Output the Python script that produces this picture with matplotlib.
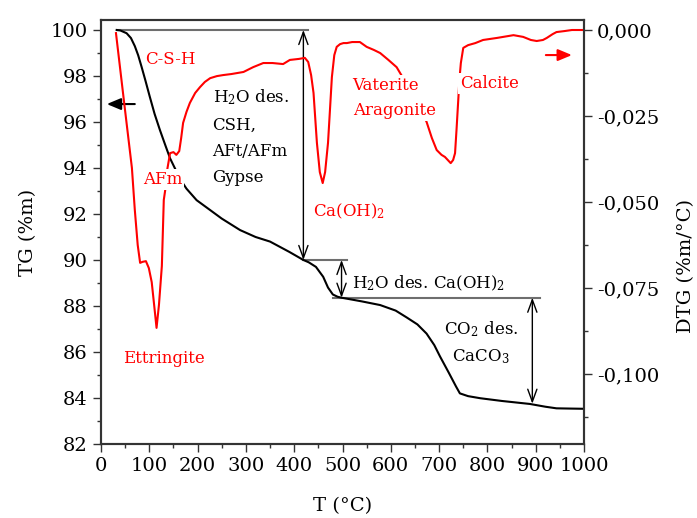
import matplotlib
matplotlib.use("Agg")
import matplotlib.pyplot as plt
from matplotlib.ticker import MultipleLocator, FuncFormatter

plt.rcParams["font.family"] = ["DejaVu Serif"]
plt.rcParams["mathtext.fontset"] = "dejavuserif"
plt.rcParams["mathtext.default"] = "regular"

# TG curve (mass %, vs temperature in degC)
tg_T = [32.5, 40, 53, 62, 70, 77, 84, 92, 101, 111, 122, 133, 143, 155, 166, 177,
        198, 226, 250, 288, 320, 350, 390, 419, 430, 445, 460, 470, 480, 490, 498,
        540, 578, 610, 633, 655, 674, 690, 702, 720, 735, 743, 760, 785, 830, 888,
        920, 943, 970, 1000]
tg = [100.0, 99.98, 99.86, 99.65, 99.3, 98.9, 98.4, 97.8, 97.1, 96.35, 95.65, 95.0,
      94.42, 93.9, 93.45, 93.1, 92.6, 92.17, 91.8, 91.3, 91.0, 90.8, 90.35, 90.0,
      89.9, 89.7, 89.27, 88.8, 88.5, 88.4, 88.36, 88.2, 88.04, 87.8, 87.5, 87.2,
      86.8, 86.3, 85.8, 85.1, 84.5, 84.2, 84.08, 83.99, 83.87, 83.74, 83.62, 83.55,
      83.54, 83.53]

# DTG curve (%m/degC)
dtg_T = [31, 48, 64, 70, 76, 81, 86, 93, 99, 105, 110, 115, 120, 126, 130, 133, 137,
         143, 150, 156, 162, 166, 170, 177, 184, 195, 205, 215, 226, 240, 253, 270,
         295, 315, 336, 355, 377, 391, 410, 422, 429, 435, 440, 447, 453, 459, 464,
         470, 474, 478, 483, 488, 495, 502, 509, 520, 536, 550, 565, 578, 595, 612,
         640, 660, 674, 685, 695, 705, 712, 718, 724, 729, 733, 736, 740, 742, 745,
         750, 760, 775, 791, 820, 854, 874, 890, 902, 915, 923, 935, 943, 960, 975,
         992, 1000]
dtg = [-0.0009, -0.0212, -0.0401, -0.0523, -0.0625, -0.0677, -0.0674, -0.0672,
       -0.0692, -0.0733, -0.0799, -0.0866, -0.0799, -0.0686, -0.0494, -0.0465,
       -0.0407, -0.0358, -0.0355, -0.0363, -0.0352, -0.0314, -0.0270, -0.0238,
       -0.0212, -0.0183, -0.0166, -0.0151, -0.0140, -0.0134, -0.0131, -0.0128,
       -0.0122, -0.0108, -0.0096, -0.0096, -0.0099, -0.0087, -0.0084, -0.0081,
       -0.0093, -0.0131, -0.0183, -0.0328, -0.0413, -0.0445, -0.0413, -0.0328,
       -0.0233, -0.0137, -0.0073, -0.0049, -0.0041, -0.0038, -0.0038, -0.0035,
       -0.0035, -0.0049, -0.0058, -0.0067, -0.0087, -0.0108, -0.0174, -0.0227,
       -0.0267, -0.0314, -0.0349, -0.0363, -0.0369, -0.0378, -0.0387, -0.0378,
       -0.0358, -0.0291, -0.0195, -0.0145, -0.0096, -0.0052, -0.0044, -0.0038,
       -0.0029, -0.0023, -0.0015, -0.0020, -0.0029, -0.0032, -0.0029, -0.0023,
       -0.0012, -0.0006, -0.0003, 0.0, 0.0, 0.0]

# mass-loss steps (T of arrow, TG start, TG end)
steps_T = [419, 498, 893]
steps_top = [100.0, 90.0, 88.36]
steps_bot = [90.0, 88.36, 83.75]
# horizontal guide lines (TG level, T start, T end)
guide_lvl = [100.0, 90.0, 88.36]
guide_T0 = [32.5, 419, 480]
guide_T1 = [429, 509, 909]

RED = "#ff0000"
SPINE = "#333333"

fig = plt.figure(figsize=(6.97, 5.18), dpi=100)
ax = fig.add_axes([0.1449, 0.1429, 0.693, 0.8185])
ax2 = ax.twinx()

ax.plot(tg_T, tg, color="black", lw=1.5, zorder=3)
ax2.plot(dtg_T, dtg, color=RED, lw=1.5, zorder=2)

for lvl, t0, t1 in zip(guide_lvl, guide_T0, guide_T1):
    ax.plot([t0, t1], [lvl, lvl], color="#6e6e6e", lw=1.5, zorder=2)
for t, a, b in zip(steps_T, steps_top, steps_bot):
    ax.annotate("", xy=(t, b), xytext=(t, a),
                arrowprops=dict(arrowstyle="<->,head_length=0.6,head_width=0.22",
                                color="black", lw=1, shrinkA=0, shrinkB=0,
                                mutation_scale=15), zorder=4)

# axis indicator arrows
ax.annotate("", xy=(12, 96.78), xytext=(70, 96.78),
            arrowprops=dict(arrowstyle="-|>,head_length=0.6,head_width=0.25",
                            color="black", lw=1.5, shrinkA=0, shrinkB=0,
                            mutation_scale=14))
ax2.annotate("", xy=(975, 98.91), xytext=(921, 98.91), xycoords=ax.transData,
             textcoords=ax.transData,
             arrowprops=dict(arrowstyle="-|>,head_length=0.6,head_width=0.25",
                             color=RED, lw=1.5, shrinkA=0, shrinkB=0,
                             mutation_scale=14))

box = dict(facecolor="white", edgecolor="none", pad=1.5)
labels = [
    (91, 99.10, "C-S-H", RED, "left", None, 1.6),
    (87, 93.88, "AFm", RED, "left", box, 1.6),
    (46, 86.09, "Ettringite", RED, "left", None, 1.6),
    (231, 97.50, "H$_2$O des.\nCSH,\nAFt/AFm\nGypse", "black", "left", None, 1.72),
    (439, 92.52, "Ca(OH)$_2$", RED, "left", None, 1.6),
    (519, 89.42, "H$_2$O des. Ca(OH)$_2$", "black", "left", None, 1.6),
    (787, 87.42, "CO$_2$ des.\nCaCO$_3$", "black", "center", None, 1.6),
    (521, 97.94, "Vaterite\nAragonite", RED, "left", box, 1.6),
    (743, 98.04, "Calcite", RED, "left", box, 1.6),
]
for x, y, s, c, ha, bb, ls in labels:
    ax2.text(x, y, s, color=c, ha=ha, va="top", fontsize=12, linespacing=ls,
             multialignment=ha, transform=ax.transData, bbox=bb, zorder=5)

ax.set_xlim(0, 1000)
ax.set_ylim(82, 100.435)
ax2.set_ylim(-0.12035, 0.00291)

ax.xaxis.set_major_locator(MultipleLocator(100))
ax.xaxis.set_minor_locator(MultipleLocator(50))
ax.yaxis.set_major_locator(MultipleLocator(2))
ax.yaxis.set_minor_locator(MultipleLocator(1))
ax2.yaxis.set_major_locator(MultipleLocator(0.025))
ax2.yaxis.set_minor_locator(MultipleLocator(0.0125))
ax2.yaxis.set_major_formatter(FuncFormatter(lambda v, p: f"{v:.3f}".replace(".", ",")))

for a in (ax, ax2):
    a.tick_params(which="major", length=6, width=1, color=SPINE, labelsize=14)
    a.tick_params(which="minor", length=3, width=1, color=SPINE)
    for sp in a.spines.values():
        sp.set_color(SPINE)
        sp.set_linewidth(1.5)

ax.set_xlabel("T (°C)", fontsize=14)
ax.set_ylabel("TG (%m)", fontsize=14)
ax2.set_ylabel("DTG (%m/°C)", fontsize=14)
ax.xaxis.set_label_coords(0.5, -0.125)
ax.yaxis.set_label_coords(-0.1325, 0.5)
ax2.yaxis.set_label_coords(1.192, 0.42)

fig.savefig("out.png", dpi=100)
